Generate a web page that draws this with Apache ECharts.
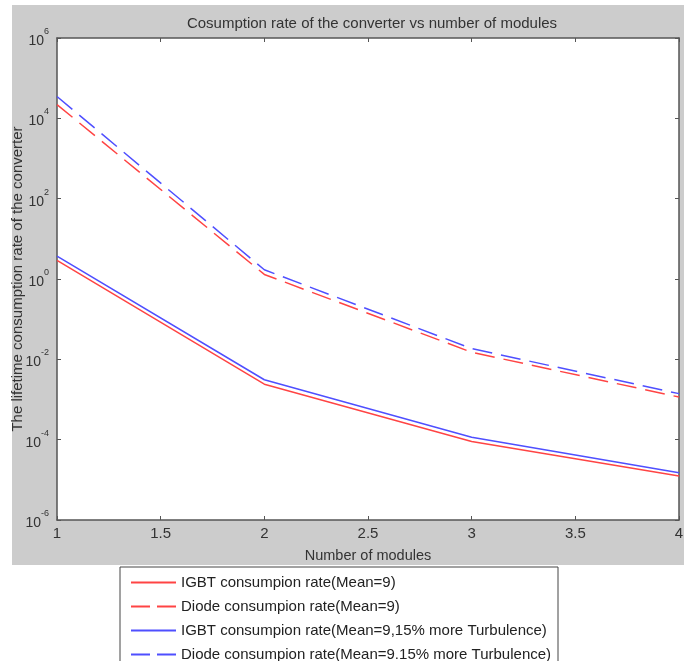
<!DOCTYPE html>
<html lang="en">
<head>
    <meta charset="utf-8">
    <title>Cosumption rate</title>
    <script src="https://cdn.jsdelivr.net/npm/echarts@6/dist/echarts.min.js"></script>
    <style type="text/css">
        html, body {
            margin: 0;
            padding: 0;
            background: #ffffff;
        }
        #main {
            width: 692px;
            height: 661px;
        }
    </style>
</head>
<body>
<div id="main"></div>
<script type="text/javascript">
    // number of modules
    let modules = [1, 2, 3, 4];
    // values
    let igbtMean9 = [2.9, 2.4e-3, 9.0e-5, 1.25e-5];
    let diodeMean9 = [2.2e4, 1.3, 1.5e-2, 1.15e-3];
    let igbtTurb = [3.7, 3.1e-3, 1.15e-4, 1.5e-5];
    let diodeTurb = [3.5e4, 1.7, 1.85e-2, 1.4e-3];
    let seriesNames = [
        'IGBT consumpion rate(Mean=9)',
        'Diode consumpion rate(Mean=9)',
        'IGBT consumpion rate(Mean=9,15% more Turbulence)',
        'Diode consumpion rate(Mean=9.15% more Turbulence)'
    ];

    let font = '"Liberation Sans", Arial, sans-serif';
    let axisColor = '#555555';
    let textColor = '#333333';
    let red = '#ff4444';
    let blue = '#4f4fff';
    let dash = [20, 9];

    function pairs(ys) {
        let out = [];
        for (let i = 0; i < modules.length; i++) {
            out.push([modules[i], ys[i]]);
        }
        return out;
    }

    function makeSeries(name, ys, color, type) {
        return {
            name: name,
            type: 'line',
            xAxisIndex: 0,
            yAxisIndex: 0,
            symbol: 'none',
            silent: true,
            data: pairs(ys),
            lineStyle: {color: color, width: 1.5, type: type},
            itemStyle: {color: color}
        };
    }

    let myChart = echarts.init(document.getElementById('main'));

    let tickStyle = {show: true, inside: true, length: 4, lineStyle: {color: axisColor, width: 1}};
    let lineStyle = {show: true, lineStyle: {color: axisColor, width: 1.5}};

    let option = {
        animation: false,
        textStyle: {fontFamily: font},
        graphic: [
            {
                type: 'rect', z: -10,
                shape: {x: 12, y: 5, width: 672, height: 560},
                style: {fill: '#cccccc'}
            },
            {
                type: 'rect', z: -10,
                shape: {x: 120, y: 567, width: 438, height: 110},
                style: {fill: '#ffffff', stroke: '#444444', lineWidth: 1}
            }
        ],
        title: {
            text: 'Cosumption rate of the converter vs number of modules',
            left: 367,
            textAlign: 'center',
            top: 11,
            textStyle: {fontFamily: font, fontSize: 15, fontWeight: 'normal', color: textColor}
        },
        grid: {
            left: 57, right: 13, top: 38, bottom: 141,
            containLabel: false,
            outerBoundsMode: 'none',
            show: true,
            backgroundColor: '#ffffff',
            borderWidth: 0
        },
        legend: {
            orient: 'vertical',
            left: 130,
            top: 575,
            height: 200,
            padding: 0,
            itemWidth: 45,
            itemHeight: 14,
            itemGap: 9,
            selectedMode: false,
            itemStyle: {opacity: 0},
            textStyle: {fontFamily: font, fontSize: 15, color: '#222222'},
            data: [
                {name: seriesNames[0]},
                {name: seriesNames[1], lineStyle: {type: [19, 7]}},
                {name: seriesNames[2]},
                {name: seriesNames[3], lineStyle: {type: [19, 7]}}
            ]
        },
        xAxis: [
            {
                type: 'value', position: 'bottom',
                min: 1, max: 4, interval: 0.5,
                name: 'Number of modules',
                nameLocation: 'middle',
                nameGap: 28,
                nameMoveOverlap: false,
                nameTextStyle: {fontFamily: font, fontSize: 14.5, color: textColor},
                axisLine: lineStyle,
                axisTick: tickStyle,
                splitLine: {show: false},
                axisLabel: {fontFamily: font, fontSize: 15, color: textColor, margin: 6}
            },
            {
                type: 'value', position: 'top',
                min: 1, max: 4, interval: 0.5,
                axisLine: lineStyle,
                axisTick: tickStyle,
                splitLine: {show: false},
                axisLabel: {show: false}
            }
        ],
        yAxis: [
            {
                type: 'log', logBase: 10, position: 'left',
                min: 1e-6, max: 1e6, interval: 2,
                name: 'The lifetime consumption rate of the converter',
                nameLocation: 'middle',
                nameGap: 32,
                nameMoveOverlap: false,
                nameTextStyle: {fontFamily: font, fontSize: 15, color: textColor},
                axisLine: lineStyle,
                axisTick: tickStyle,
                splitLine: {show: false},
                axisLabel: {
                    margin: 8,
                    color: textColor,
                    padding: [0, 0, 8, 0],
                    formatter: function (v) {
                        let e = Math.round(Math.log10(v));
                        return '{b|10}{e|' + e + '}';
                    },
                    rich: {
                        b: {fontFamily: font, fontSize: 14, color: textColor, lineHeight: 14, verticalAlign: 'top', padding: [7, 0, 0, 0]},
                        e: {fontFamily: font, fontSize: 9, color: textColor, lineHeight: 10, verticalAlign: 'top'}
                    }
                }
            },
            {
                type: 'log', logBase: 10, position: 'right',
                min: 1e-6, max: 1e6, interval: 2,
                axisLine: lineStyle,
                axisTick: tickStyle,
                splitLine: {show: false},
                axisLabel: {show: false}
            }
        ],
        series: [
            makeSeries(seriesNames[0], igbtMean9, red, 'solid'),
            makeSeries(seriesNames[1], diodeMean9, red, dash),
            makeSeries(seriesNames[2], igbtTurb, blue, 'solid'),
            makeSeries(seriesNames[3], diodeTurb, blue, dash)
        ]
    };

    myChart.setOption(option);
</script>
</body>
</html>
